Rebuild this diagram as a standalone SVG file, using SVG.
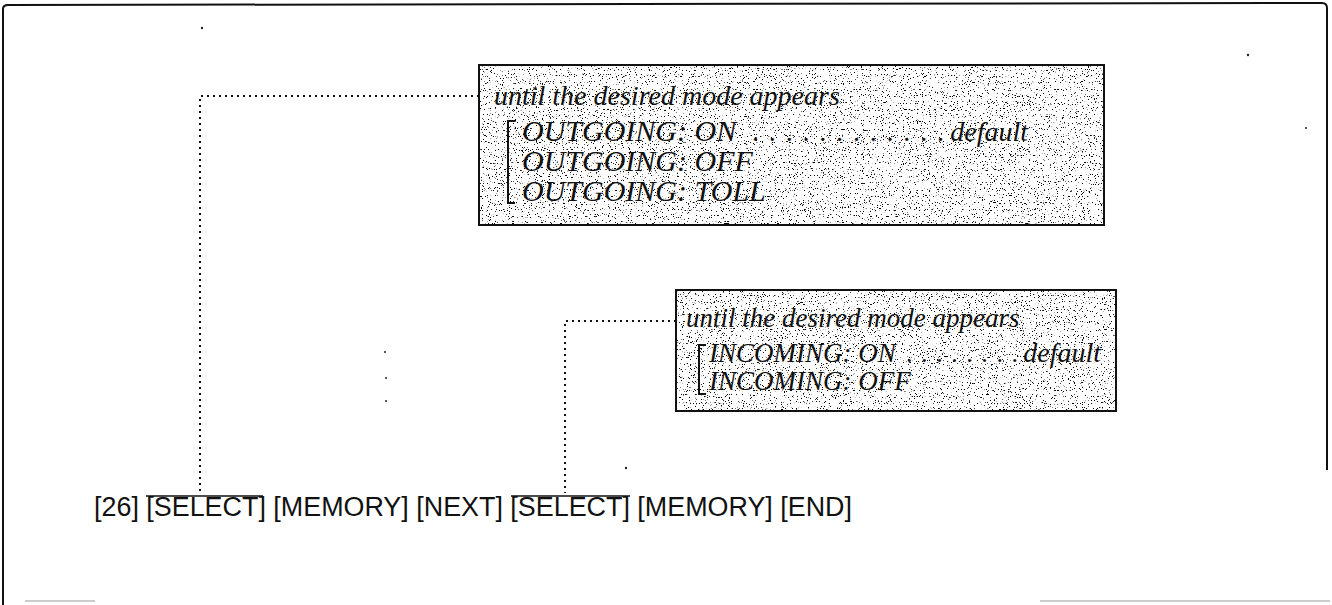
<svg xmlns="http://www.w3.org/2000/svg" width="1332" height="605" viewBox="0 0 1332 605">
<style>
.frame{fill:none;stroke:#111;stroke-width:2}
.box{fill:none;stroke:#111;stroke-width:2}
.it{font-family:"Liberation Serif",serif;font-style:italic;fill:#111}
.dots{font-family:"Liberation Serif",serif;fill:#111}
.conn{fill:none;stroke:#111;stroke-width:2;stroke-dasharray:2 4}
.key{font-family:"Liberation Sans",Arial,sans-serif;fill:#111}
.brk{fill:none;stroke:#111;stroke-width:2}
.speck{fill:#222}
</style>
<defs>
<filter id="stip" x="0" y="0" width="1" height="1" filterUnits="objectBoundingBox">
<feTurbulence type="fractalNoise" baseFrequency="0.85" numOctaves="2" seed="7"/>
<feColorMatrix type="matrix" values="0 0 0 0 0  0 0 0 0 0  0 0 0 0 0  -16 0 0 0 5.7"/>
</filter>
</defs>
<rect width="1332" height="605" fill="#fff"/>
<g id="frame">
<path class="frame" d="M3 605 V9 Q3 5 8 5 L1322 3 Q1327 3 1327 8 V470"/>
<line x1="25" y1="601" x2="95" y2="601" stroke="#bbb" stroke-width="1.5"/>
<line x1="1040" y1="601" x2="1330" y2="601" stroke="#bbb" stroke-width="1.5"/>
</g>
<g id="specks">
<circle class="speck" cx="202" cy="28" r="1.2"/>
<circle class="speck" cx="385" cy="352" r="1"/>
<circle class="speck" cx="386" cy="378" r="1"/>
<circle class="speck" cx="386" cy="401" r="1"/>
<circle class="speck" cx="626" cy="468" r="1.2"/>
<circle class="speck" cx="1248" cy="55" r="1.2"/>
<circle class="speck" cx="1306" cy="128" r="1"/>
</g>
<g id="connectors">
<path class="conn" d="M479 96 H200 V493"/>
<path class="conn" d="M676 321 H565 V493"/>
</g>
<g id="outgoing">
<rect x="479" y="65" width="625" height="160" fill="#fff"/>
<rect x="479" y="65" width="625" height="160" fill="#fff" filter="url(#stip)"/>
<rect class="box" x="479" y="65" width="625" height="160"/>
<text class="it" x="494" y="105" font-size="28">until the desired mode appears</text>
<path class="brk" d="M515 121 H508 V203 H515"/>
<text class="it" x="522" y="141" font-size="30">OUTGOING: ON</text>
<text class="dots" x="752" y="141" font-size="28" textLength="192">. . . . . . . . . . . .</text>
<text class="it" x="1028" y="141" font-size="28" text-anchor="end">default</text>
<text class="it" x="522" y="171" font-size="30">OUTGOING: OFF</text>
<text class="it" x="522" y="201" font-size="30">OUTGOING: TOLL</text>
</g>
<g id="incoming">
<rect x="676" y="290" width="440" height="121" fill="#fff"/>
<rect x="676" y="290" width="440" height="121" fill="#fff" filter="url(#stip)"/>
<rect class="box" x="676" y="290" width="440" height="121"/>
<text class="it" x="686" y="327" font-size="27">until the desired mode appears</text>
<path class="brk" d="M706 345 H699 V394 H706"/>
<text class="it" x="709" y="362" font-size="27">INCOMING: ON</text>
<text class="dots" x="906" y="362" font-size="26" textLength="112">. . . . . . . .</text>
<text class="it" x="1101" y="362" font-size="28" text-anchor="end">default</text>
<text class="it" x="709" y="390" font-size="27">INCOMING: OFF</text>
</g>
<g id="sequence">
<text class="key" x="94" y="516" font-size="27" textLength="758" lengthAdjust="spacingAndGlyphs">[26] [SELECT] [MEMORY] [NEXT] [SELECT] [MEMORY] [END]</text>
<line x1="146" y1="496" x2="263" y2="496" stroke="#111" stroke-width="1.5"/>
<line x1="511" y1="496" x2="630" y2="496" stroke="#111" stroke-width="1.5"/>
</g>
</svg>
